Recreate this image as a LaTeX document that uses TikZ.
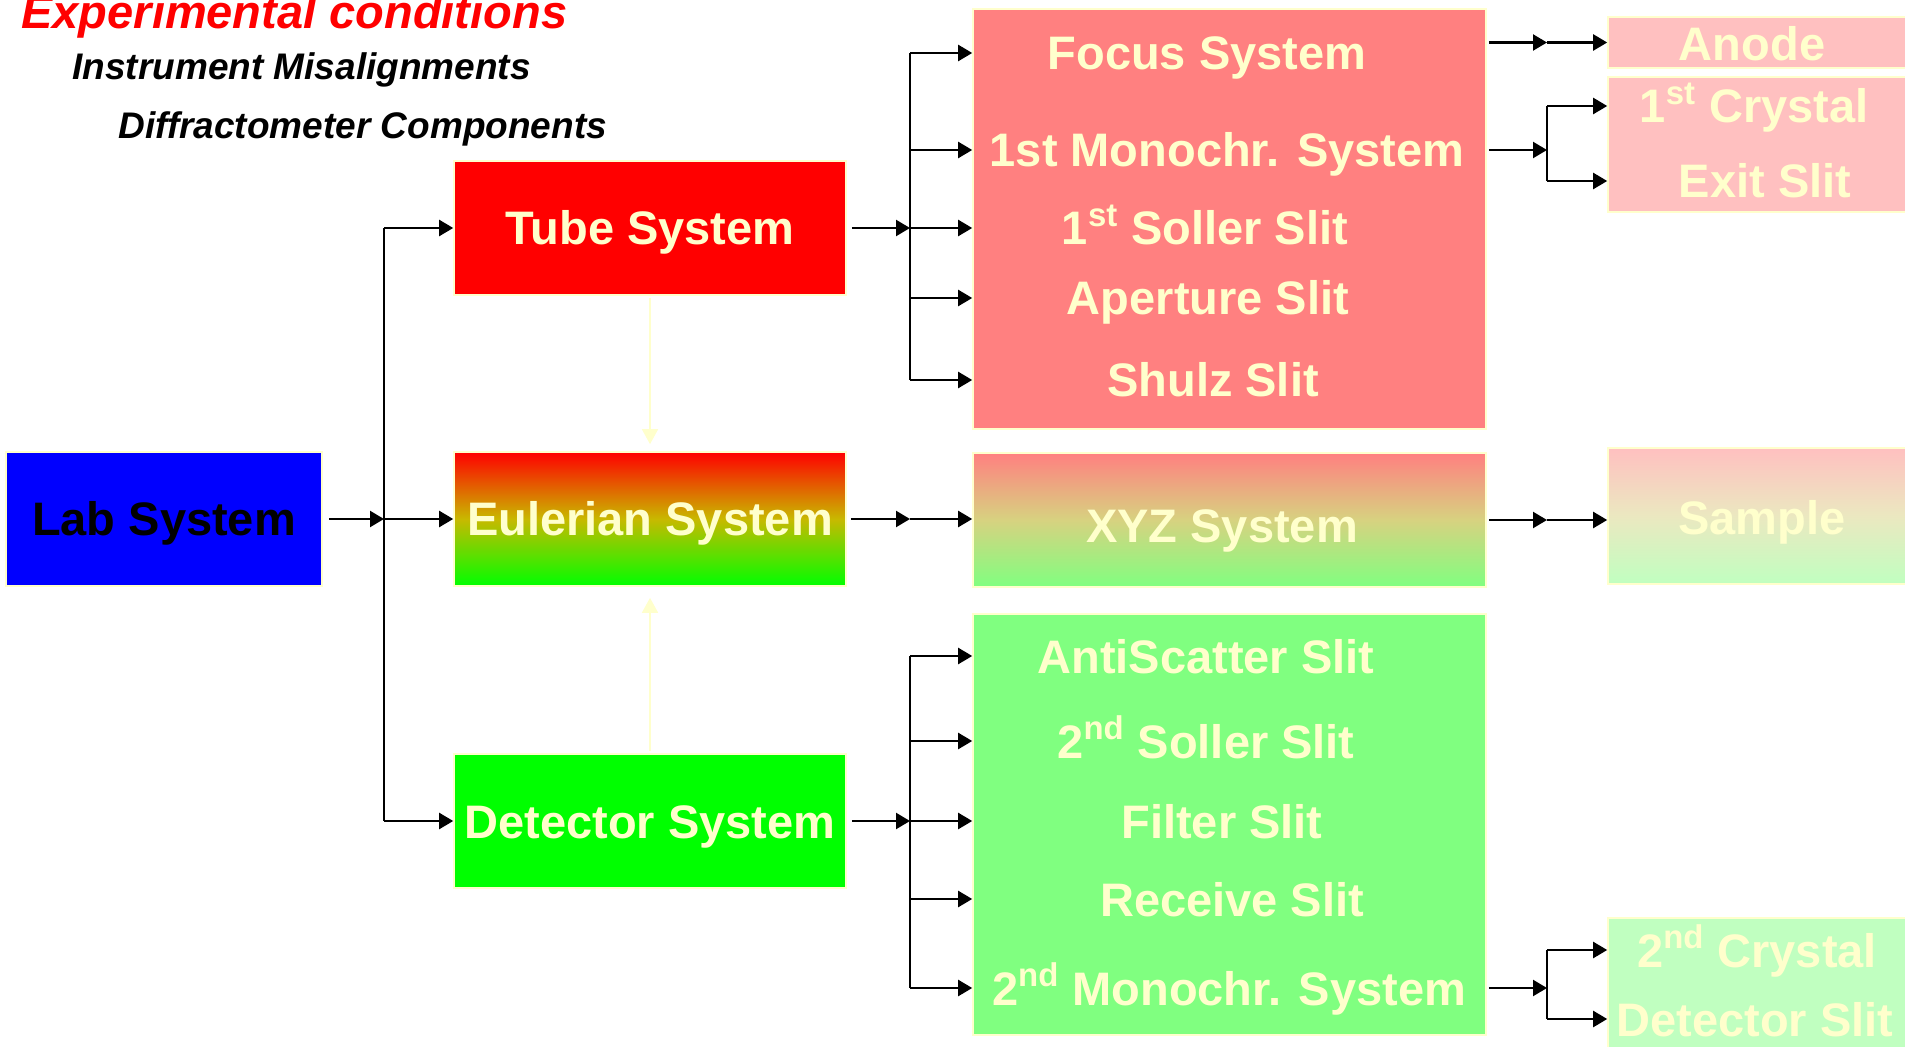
\documentclass[tikz,border=0pt]{standalone}
\usepackage{fontspec}
\setmainfont{Liberation Sans}
\usetikzlibrary{arrows.meta,calc}

\definecolor{cream}{HTML}{FFFFCC}
\definecolor{labblue}{HTML}{0000FF}
\definecolor{pinkA}{HTML}{FF8080}
\definecolor{greenA}{HTML}{80FF80}
\definecolor{pinkB}{HTML}{FFC0C0}
\definecolor{greenB}{HTML}{C0FFC0}
\definecolor{eulmid}{RGB}{200,185,0}
\definecolor{xyzmid}{RGB}{215,210,128}
\definecolor{sampmid}{RGB}{235,232,192}

\tikzset{
  box/.style={draw=cream, line width=0.8pt, inner sep=0pt, text=cream,
    font=\bfseries\fontsize{23.5}{28}\selectfont, text height=17pt, text depth=0pt},
  lbl/.style={inner sep=0pt, text=cream,
    font=\bfseries\fontsize{23.5}{28}\selectfont, text height=17pt, text depth=0pt},
  wire/.style={line width=1.1pt, black},
  conn/.style={wire, -{Triangle[length=7pt,width=8pt]}},
  faint/.style={line width=0.8pt, cream, -{Triangle[length=7.5pt,width=8pt]}},
  heading/.style={anchor=base west, inner sep=0pt,
    font=\bfseries\itshape\fontsize{23.5}{28}\selectfont},
  subheading/.style={anchor=base west, inner sep=0pt,
    font=\bfseries\itshape\fontsize{18.5}{22}\selectfont},
}

\begin{document}
\begin{tikzpicture}[x=0.5pt,y=-0.5pt]
\clip (0,0) rectangle (1905,1047);

% headings
\node[heading, text=red] (h1) at (21,29) {Experimental conditions};
\node[subheading] (h2) at (72,80) {Instrument Misalignments};
\node[subheading] (h3) at (118,139) {Diffractometer Components};

% main systems
\node[box, fill=labblue, text=black, minimum width=158pt, minimum height=67pt] (lab) at (164,519) {Lab System};
\node[box, fill=red, minimum width=196pt, minimum height=67pt] (tube) at (650,228) {Tube System};
\node[box, top color=red, bottom color=green, middle color=eulmid, minimum width=196pt, minimum height=67pt] (eul) at (650,519) {Eulerian System};
\node[box, fill=green, minimum width=196pt, minimum height=67pt] (det) at (650,821) {Detector System};

% component groups
\node[box, fill=pinkA, minimum width=256.5pt, minimum height=210pt] (pink) at (1229.5,219) {};
\node[box, top color=pinkA, bottom color=greenA, middle color=xyzmid, minimum width=256.5pt, minimum height=67pt] (xyz) at (1229.5,520) {};
\node[box, fill=greenA, minimum width=256.5pt, minimum height=210.5pt] (grn) at (1229.5,824.5) {};

\node[lbl] (foc) at (1207,53) {Focus System};
\node[lbl] (mono) at (1227,150) {1st Monochr. System};
\node[lbl] (sol1) at (1205,228) {1\textsuperscript{st} Soller Slit};
\node[lbl] (ape) at (1208,298) {Aperture Slit};
\node[lbl] (shu) at (1213,380) {Shulz Slit};

\node[lbl] (xyzT) at (1222,526) {XYZ System};

\node[lbl] (anti) at (1206,656) {AntiScatter Slit};
\node[lbl] (sol2) at (1206,741) {2\textsuperscript{nd} Soller Slit};
\node[lbl] (fil) at (1222,821) {Filter Slit};
\node[lbl] (rec) at (1232,899) {Receive Slit};
\node[lbl] (mon2) at (1229,988) {2\textsuperscript{nd} Monochr. System};

% parts
\node[box, fill=pinkB, minimum width=161pt, minimum height=25.5pt] (anode) at (1769,42.5) {};
\node[box, fill=pinkB, minimum width=161pt, minimum height=67.5pt] (crys) at (1769,144.5) {};
\node[box, top color=pinkB, bottom color=greenB, middle color=sampmid, minimum width=161pt, minimum height=68pt] (samp) at (1769,516) {};
\node[box, fill=greenB, minimum width=161pt, minimum height=76pt] (crys2) at (1769,994) {};

\node[lbl] (anodeT) at (1752,44) {Anode};
\node[lbl] (cr1) at (1754,106) {1\textsuperscript{st} Crystal};
\node[lbl] (exi) at (1765,181) {Exit Slit};
\node[lbl] (sampT) at (1762,518) {Sample};
\node[lbl] (cr2) at (1757,950) {2\textsuperscript{nd} Crystal};
\node[lbl] (dsl) at (1755,1019) {Detector Slit};

% junction points
\coordinate (jL) at (384,0 |- lab.center);
\coordinate (jT) at (910,0 |- tube.center);
\coordinate (jE) at (910,0 |- eul.center);
\coordinate (jD) at (910,0 |- det.center);
\coordinate (jA) at (1547,0 |- anode.center);
\coordinate (jC) at (1547,0 |- mono.center);
\coordinate (jX) at (1547,0 |- xyz.center);
\coordinate (jM) at (1547,0 |- mon2.center);

% lab fork
\draw[conn, shorten <=3pt] (lab.east) -- (jL);
\draw[wire] (jL |- tube.center) -- (jL |- det.center);
\draw[conn] (jL |- tube.center) -- (tube.west);
\draw[conn] (jL) -- (eul.west);
\draw[conn] (jL |- det.center) -- (det.west);

% tube fork
\draw[conn, shorten <=2.5pt] (tube.east) -- (jT);
\draw[wire] (jT |- foc) -- (jT |- shu);
\foreach \t in {foc,mono,sol1,ape,shu}
  \draw[conn] (jT |- \t) -- (pink.west |- \t);

% eulerian chain
\draw[conn, shorten <=2pt] (eul.east) -- (jE);
\draw[conn] (jE) -- (jE -| xyz.west);
\draw[conn, shorten <=1pt] (xyz.east) -- (jX);
\draw[conn] (jX) -- (jX -| samp.west);

% detector fork
\draw[conn, shorten <=2.5pt] (det.east) -- (jD);
\draw[wire] (jD |- anti) -- (jD |- mon2);
\foreach \t in {anti,sol2,fil,rec,mon2}
  \draw[conn] (jD |- \t) -- (grn.west |- \t);

% right-hand forks
\draw[conn, shorten <=1pt] (pink.east |- anode) -- (jA);
\draw[conn] (jA) -- (anode.west);
\draw[conn, shorten <=1pt] (pink.east |- mono) -- (jC);
\draw[wire] (jC |- cr1) -- (jC |- exi);
\draw[conn] (jC |- cr1) -- (crys.west |- cr1);
\draw[conn] (jC |- exi) -- (crys.west |- exi);
\draw[conn, shorten <=1pt] (grn.east |- mon2) -- (jM);
\draw[wire] (jM |- cr2) -- (jM |- dsl);
\draw[conn] (jM |- cr2) -- (crys2.west |- cr2);
\draw[conn] (jM |- dsl) -- (crys2.west |- dsl);

% faint links to the eulerian cradle
\draw[faint, shorten <=1pt, shorten >=3.5pt] (tube.south) -- (eul.north);
\draw[faint, shorten <=1pt, shorten >=5.5pt] (det.north) -- (eul.south);
\end{tikzpicture}
\end{document}
